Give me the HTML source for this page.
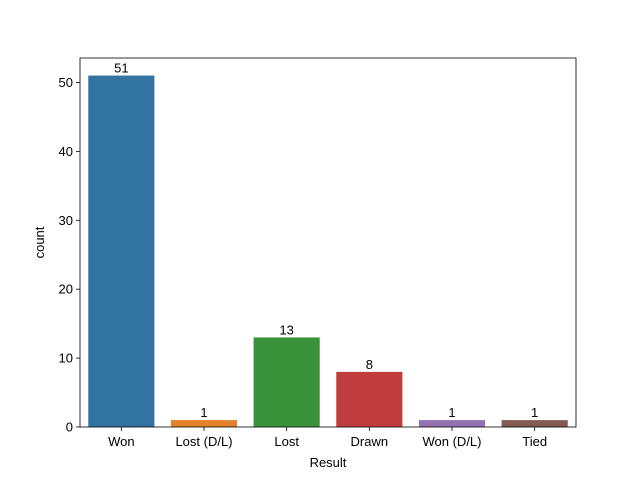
<!DOCTYPE html>
<html><head><meta charset="utf-8"><style>body{margin:0;background:#fff}svg{font-family:"Liberation Sans","DejaVu Sans",sans-serif}</style></head>
<body>
<svg id="chart" width="640" height="480"></svg>
<script>
const categories=["Won","Lost (D/L)","Lost","Drawn","Won (D/L)","Tied"];
const counts=[51,1,13,8,1,1];
const colors=["#3274a1","#e1812c","#3a923a","#c03d3e","#9372b2","#845b53"];
const yTicks=[0,10,20,30,40,50];
const NS="http://www.w3.org/2000/svg";
const svg=document.getElementById('chart');
const L=80,R=576,T=58,B=427,yMax=53.55;
const y=v=>B-(v/yMax)*(B-T);
const band=(R-L)/categories.length;
const x=i=>L+band*i+band/2;
function mk(t,a,txt){const e=document.createElementNS(NS,t);for(const k in a)e.setAttribute(k,a[k]);if(txt!==undefined)e.textContent=txt;svg.appendChild(e);return e;}
categories.forEach((c,i)=>{
  const w=band*0.8;
  const r=mk('rect',{x:x(i)-w/2,y:y(counts[i]),width:w,height:B-y(counts[i]),fill:colors[i]});
  
  
  const lb=mk('text',{x:x(i),y:y(counts[i])-3,'text-anchor':'middle','font-size':13},counts[i]);
  
  
  mk('line',{x1:x(i),x2:x(i),y1:B,y2:B+4,stroke:'#000','stroke-width':0.8});
  const t=mk('text',{x:x(i),y:B+19,'text-anchor':'middle','font-size':13},c);
  
  
});
yTicks.forEach(v=>{
  mk('line',{x1:L-4,x2:L,y1:y(v),y2:y(v),stroke:'#000','stroke-width':0.8});
  const t=mk('text',{x:L-7,y:y(v)+4.5,'text-anchor':'end','font-size':13},v);
  
  
});
const f=mk('rect',{x:L,y:T,width:R-L,height:B-T,fill:'none',stroke:'#000','stroke-width':0.8});


const xt=mk('text',{x:(L+R)/2,y:467,'text-anchor':'middle','font-size':13},'Result');


const yt=mk('text',{x:44,y:(T+B)/2,'text-anchor':'middle','font-size':13,transform:`rotate(-90 44 ${(T+B)/2})`},'count');


</script>
</body></html>
